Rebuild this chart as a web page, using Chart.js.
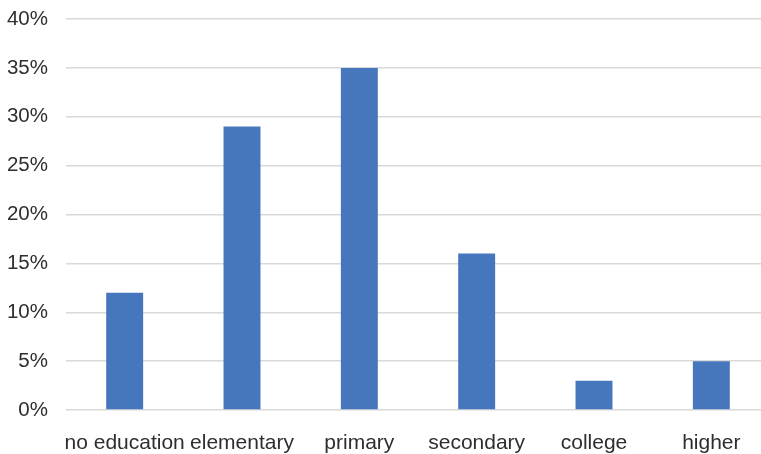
<!DOCTYPE html>
<html>
<head>
<meta charset="utf-8">
<script src="https://cdn.jsdelivr.net/npm/chart.js@4/dist/chart.umd.min.js"></script>
<style>
  html, body { margin: 0; padding: 0; background: #ffffff; overflow: hidden; }
  #wrap { position: relative; width: 770px; height: 454px; }
</style>
</head>
<body>
<div id="wrap"><canvas id="c" width="770" height="454"></canvas></div>
<script>
const categories = ["no education", "elementary", "primary", "secondary", "college", "higher"];
const shares = [12, 29, 35, 16, 3, 5];
const yTicks = [0, 5, 10, 15, 20, 25, 30, 35, 40];

const fontFamily = "'Liberation Sans', Arial, Helvetica, sans-serif";

new Chart(document.getElementById('c'), {
  type: 'bar',
  data: {
    labels: categories,
    datasets: [{
      data: shares,
      backgroundColor: '#4677BC',
      borderWidth: 0,
      categoryPercentage: 1.0,
      barPercentage: 0.315
    }]
  },
  options: {
    responsive: false,
    animation: false,
    layout: { padding: { top: 19, right: 0, bottom: 0, left: 0 } },
    plugins: { legend: { display: false }, tooltip: { enabled: false } },
    scales: {
      x: {
        grid: { display: false },
        border: { display: false },
        ticks: {
          color: '#2e2e2e',
          font: { family: fontFamily, size: 21 },
          padding: 13,
          maxRotation: 0,
          autoSkip: false
        },
        afterFit: (s) => { s.height = 44; s.paddingLeft = 0; s.paddingRight = 0; }
      },
      y: {
        min: 0,
        max: 40,
        afterBuildTicks: (s) => { s.ticks = yTicks.map(v => ({ value: v })); },
        grid: { color: '#d9d9d9', lineWidth: 1.4, drawTicks: false },
        border: { display: false },
        ticks: {
          color: '#2e2e2e',
          font: { family: fontFamily, size: 20.5 },
          padding: 18,
          callback: (v) => v + '%'
        },
        afterFit: (s) => { s.width = 66; s.paddingTop = 0; s.paddingBottom = 0; }
      }
    }
  }
});
</script>
</body>
</html>
